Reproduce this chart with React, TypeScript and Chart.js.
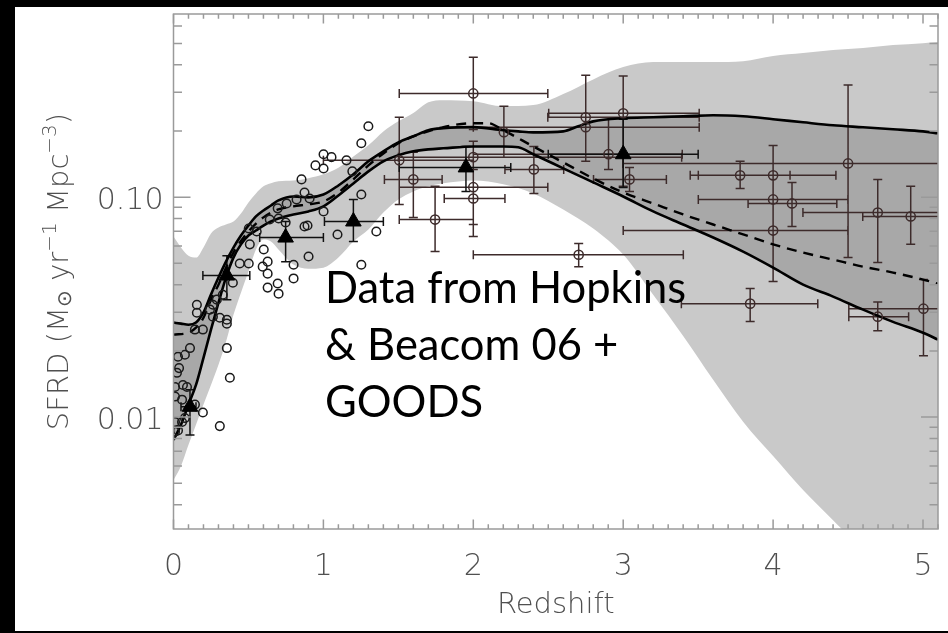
import React, { useEffect, useRef } from "react";
import { Chart, registerables } from "chart.js";

Chart.register(...registerables);

// ---------------- data ----------------
const lightZ = [0, 0.05, 0.1, 0.15, 0.2, 0.25, 0.3, 0.35, 0.4, 0.45, 0.5, 0.55, 0.6, 0.65, 0.7, 0.8, 0.9, 1.0, 1.1, 1.2, 1.3, 1.4, 1.5, 1.6, 1.7, 1.8, 2.0, 2.2, 2.4, 2.6, 2.8, 3.0, 3.2, 3.4, 3.6, 3.8, 4.0, 4.2, 4.4, 4.6, 4.8, 5.0, 5.1];
const lightHi = [0.0662, 0.0591, 0.0542, 0.0531, 0.0591, 0.0684, 0.0728, 0.0751, 0.0775, 0.0843, 0.0946, 0.104, 0.112, 0.1155, 0.118, 0.119, 0.122, 0.127, 0.136, 0.153, 0.172, 0.199, 0.221, 0.241, 0.27, 0.276, 0.273, 0.259, 0.262, 0.294, 0.343, 0.39, 0.411, 0.411, 0.411, 0.415, 0.438, 0.452, 0.466, 0.476, 0.491, 0.501, 0.507];
const lightLo = [0.00518, 0.006, 0.00748, 0.00923, 0.0114, 0.014, 0.0173, 0.022, 0.0292, 0.0368, 0.0459, 0.0578, 0.0641, 0.0628, 0.0578, 0.0494, 0.0473, 0.0478, 0.0531, 0.0628, 0.0712, 0.0851, 0.0976, 0.1062, 0.112, 0.1155, 0.119, 0.1143, 0.104, 0.0879, 0.072, 0.0548, 0.036, 0.0234, 0.0148, 0.00953, 0.00665, 0.00466, 0.0034, 0.00248, 0.00181, 0.00132, 0.00113];

const darkZ = [0, 0.05, 0.1, 0.15, 0.2, 0.25, 0.3, 0.35, 0.4, 0.45, 0.5, 0.55, 0.6, 0.65, 0.7, 0.8, 0.9, 1.0, 1.1, 1.2, 1.3, 1.4, 1.5, 1.6, 1.7, 1.8, 2.0, 2.2, 2.3, 2.4, 2.6, 2.7, 2.8, 3.0, 3.2, 3.4, 3.6, 3.8, 4.0, 4.2, 4.4, 4.6, 4.8, 5.0, 5.1];
const upperSolid = [0.0269, 0.0266, 0.0263, 0.0269, 0.0299, 0.0361, 0.0431, 0.0509, 0.059, 0.0669, 0.0743, 0.0817, 0.087, 0.0916, 0.0966, 0.1007, 0.0997, 0.1028, 0.113, 0.127, 0.1455, 0.1615, 0.1775, 0.189, 0.2015, 0.2057, 0.208, 0.2015, 0.199, 0.197, 0.199, 0.21, 0.221, 0.2285, 0.2308, 0.233, 0.2357, 0.233, 0.2261, 0.2189, 0.2122, 0.2078, 0.2034, 0.199, 0.195];
const lowerSolid = [0.00787, 0.00923, 0.0114, 0.014, 0.0186, 0.025, 0.0331, 0.0431, 0.0531, 0.061, 0.0669, 0.0705, 0.0743, 0.0775, 0.08, 0.0834, 0.0861, 0.0908, 0.1018, 0.1154, 0.1309, 0.1455, 0.155, 0.1615, 0.1649, 0.1667, 0.17, 0.17, 0.1684, 0.1567, 0.1352, 0.1256, 0.1167, 0.1007, 0.0861, 0.0751, 0.0655, 0.0565, 0.0478, 0.04, 0.0353, 0.0308, 0.0271, 0.0242, 0.0225];

const dashZ = [0, 0.1, 0.15, 0.2, 0.25, 0.3, 0.35, 0.4, 0.5, 0.6, 0.7, 0.8, 0.9, 1.0, 1.1, 1.2, 1.3, 1.4, 1.5, 1.6, 1.8, 2.0, 2.1, 2.2, 2.4, 2.6, 2.8, 3.0, 3.2, 3.4, 3.6, 3.8, 4.0, 4.2, 4.4, 4.6, 4.8, 5.0, 5.1];
const dashV = [0.0237, 0.0242, 0.0255, 0.0283, 0.0342, 0.04, 0.0478, 0.056, 0.0698, 0.0809, 0.0879, 0.0908, 0.0927, 0.0955, 0.105, 0.1204, 0.1394, 0.158, 0.1757, 0.189, 0.208, 0.2168, 0.2168, 0.2015, 0.17, 0.1438, 0.1216, 0.105, 0.0936, 0.0834, 0.0751, 0.0677, 0.061, 0.056, 0.052, 0.0483, 0.0454, 0.0422, 0.0404];

// open circles without error bars
const ptZ = [1.3, 1.253, 1.001, 1.054, 0.947, 1.001, 1.154, 1.193, 0.854, 0.874, 1.253, 0.821, 0.755, 0.908, 0.695, 0.642, 0.701, 0.748, 0.874, 0.894, 1.001, 0.502, 0.555, 0.509, 1.094, 1.353, 0.602, 0.901, 0.801, 0.442, 0.502, 0.595, 0.628, 0.628, 1.253, 0.801, 0.695, 0.628, 0.701, 0.396, 0.329, 0.289, 0.263, 0.243, 0.263, 0.309, 0.156, 0.156, 0.356, 0.356, 0.143, 0.196, 0.356, 0.376, 0.11, 0.076, 0.03, 0.037, 0.023, 0.01, 0.09, 0.063, 0.01, 0.057, 0.143, 0.196, 0.01, 0.057, 0.076, 0.309, 0.01, 0.03];
const ptV = [0.21, 0.1757, 0.1567, 0.152, 0.1394, 0.135, 0.147, 0.131, 0.1204, 0.105, 0.1028, 0.0976, 0.0936, 0.0986, 0.0889, 0.0791, 0.08, 0.0767, 0.0735, 0.0743, 0.0861, 0.072, 0.0698, 0.061, 0.0676, 0.0698, 0.0578, 0.0537, 0.0493, 0.0499, 0.0499, 0.0483, 0.0509, 0.0449, 0.0493, 0.0427, 0.0405, 0.0388, 0.0364, 0.0408, 0.036, 0.0342, 0.0324, 0.0308, 0.0286, 0.0283, 0.0324, 0.0298, 0.0277, 0.0266, 0.025, 0.025, 0.0206, 0.0151, 0.0206, 0.0192, 0.0188, 0.0167, 0.0159, 0.0137, 0.0137, 0.014, 0.0124, 0.012, 0.0114, 0.0105, 0.0095, 0.0095, 0.0099, 0.0091, 0.00858, 0.0087];

// circles with error bars
const errZ = [1.506, 1.6, 1.745, 2.0, 2.0, 2.0, 2.0, 2.204, 2.404, 2.703, 2.75, 2.75, 3.0, 2.902, 3.042, 3.78, 4.0, 4.0, 4.0, 4.126, 4.5, 4.698, 4.918, 3.847, 4.698, 5.003];
const errV = [0.147, 0.1204, 0.0791, 0.296, 0.152, 0.111, 0.0986, 0.1973, 0.1337, 0.0547, 0.2307, 0.2078, 0.2406, 0.1567, 0.1204, 0.1256, 0.1256, 0.0976, 0.0705, 0.0936, 0.1423, 0.0851, 0.0817, 0.0328, 0.0286, 0.0311];
const errZlo = [1.0, 1.407, 1.506, 1.506, 1.5, 1.506, 1.806, null, 2.211, 2.0, 2.497, 2.0, 2.503, 2.0, 2.802, 3.447, 3.501, 3.501, 3.0, 3.833, 2.997, 4.199, 4.598, 3.388, 4.505, 4.505];
const errZhi = [2.0, 1.792, 2.0, 2.497, 3.39, 2.497, 2.211, null, 2.603, 3.401, 3.507, 3.507, 3.507, 3.394, 3.288, 4.113, 4.419, 4.499, 4.499, 4.425, 5.2, 5.2, 5.2, 4.298, 4.904, 5.2];
const errVlo = [0.0927, 0.0809, 0.0566, 0.203, 0.0751, 0.0662, null, 0.152, 0.104, 0.0483, 0.1455, null, 0.112, 0.1337, 0.1062, 0.1095, 0.0413, null, null, 0.0735, 0.0531, 0.0504, 0.061, 0.0272, 0.0247, 0.019];
const errVhi = [0.2307, 0.16, 0.112, 0.432, 0.1795, 0.1337, null, 0.259, 0.17, 0.0615, 0.358, null, 0.355, 0.2307, 0.1365, 0.1455, 0.1719, null, null, 0.1167, 0.323, 0.1204, 0.112, 0.0384, 0.0334, 0.0422];

// filled triangles (GOODS)
const triZ = [0.11, 0.356, 0.748, 1.2, 1.951, 3.0];
const triV = [0.01114, 0.044, 0.0655, 0.0775, 0.1365, 0.1567];
const triZlo = [0.05, 0.196, 0.575, 1.007, 1.506, 2.5];
const triZhi = [0.15, 0.509, 1.0, 1.4, 2.25, 3.5];
const triVlo = [0.0083, 0.0342, 0.0509, 0.0628, 0.1062, 0.1107];
const triVhi = [0.0133, 0.0542, 0.0775, 0.0976, 0.17, 0.226];

// axes
const xMin = 0;
const xMax = 5.1;
const yMin = 0.0031;
const yMax = 0.68;
const xTickValues = [0, 1, 2, 3, 4, 5];
const xTickLabels = ["0", "1", "2", "3", "4", "5"];
const yTickValues = [0.01, 0.1];
const yTickLabels = ["0.01", "0.10"];
const yMinorTicks = [0.004, 0.005, 0.006, 0.007, 0.008, 0.009, 0.02, 0.03, 0.04, 0.05, 0.06, 0.07, 0.08, 0.09, 0.2, 0.3, 0.4, 0.5, 0.6];
const xTitle = "Redshift";
const yTitleParts = [
  { t: "SFRD (M", k: "n" },
  { t: "\u2299", k: "sub" },
  { t: " yr", k: "n" },
  { t: "\u22121", k: "sup" },
  { t: " Mpc", k: "n" },
  { t: "\u22123", k: "sup" },
  { t: ")", k: "n" },
];
const noteLines = ["Data from Hopkins", "& Beacom 06 +", "GOODS"];

const pts = (xs: number[], ys: number[]) => xs.map((x, i) => ({ x, y: ys[i] }));

const AXIS_GREY = "#9a9a9a";
const LABEL_GREY = "#505050";
const BAR_COLOR = "#3d2b2b";
const LABEL_FONT = '200 30px "DejaVu Sans"';

function drawBars(ctx: CanvasRenderingContext2D, x: any, y: any, zs: number[], vs: number[], zlo: (number | null)[], zhi: (number | null)[], vlo: (number | null)[], vhi: (number | null)[]) {
  const cap = 4.5;
  ctx.beginPath();
  for (let i = 0; i < zs.length; i++) {
    const px = x.getPixelForValue(zs[i]);
    const py = y.getPixelForValue(vs[i]);
    if (zlo[i] != null && zhi[i] != null) {
      const l = x.getPixelForValue(zlo[i]);
      const r = x.getPixelForValue(zhi[i]);
      ctx.moveTo(l, py); ctx.lineTo(r, py);
      ctx.moveTo(l, py - cap); ctx.lineTo(l, py + cap);
      ctx.moveTo(r, py - cap); ctx.lineTo(r, py + cap);
    }
    if (vlo[i] != null && vhi[i] != null) {
      const t = y.getPixelForValue(vhi[i]);
      const b = y.getPixelForValue(vlo[i]);
      ctx.moveTo(px, t); ctx.lineTo(px, b);
      ctx.moveTo(px - cap, t); ctx.lineTo(px + cap, t);
      ctx.moveTo(px - cap, b); ctx.lineTo(px + cap, b);
    }
  }
  ctx.stroke();
}

const decorPlugin = {
  id: "decor",
  beforeDraw(chart: any) {
    const { ctx, width, height } = chart;
    ctx.save();
    ctx.fillStyle = "#000";
    ctx.fillRect(0, 0, width, height);
    ctx.fillStyle = "#fff";
    ctx.fillRect(15, 7, width - 15, 624);
    ctx.restore();
  },
  beforeDatasetsDraw(chart: any) {
    const { ctx, chartArea: a, scales } = chart;
    ctx.save();
    ctx.beginPath();
    ctx.rect(a.left, a.top, a.right - a.left, a.bottom - a.top);
    ctx.clip();
    ctx.strokeStyle = BAR_COLOR;
    ctx.lineWidth = 1.5;
    drawBars(ctx, scales.x, scales.y, errZ, errV, errZlo, errZhi, errVlo, errVhi);
    ctx.strokeStyle = "#111";
    drawBars(ctx, scales.x, scales.y, triZ, triV, triZlo, triZhi, triVlo, triVhi);
    ctx.restore();
  },
  afterDraw(chart: any) {
    const { ctx, chartArea: a, scales } = chart;
    const x = scales.x;
    const y = scales.y;
    ctx.save();
    // frame
    ctx.strokeStyle = AXIS_GREY;
    ctx.lineWidth = 1.5;
    ctx.strokeRect(a.left, a.top, a.right - a.left, a.bottom - a.top);
    // inward ticks
    ctx.beginPath();
    for (let i = 0; i <= 51; i++) {
      const px = x.getPixelForValue(i / 10);
      const len = i % 10 === 0 ? 9.5 : 4.7;
      ctx.moveTo(px, a.bottom); ctx.lineTo(px, a.bottom - len);
      ctx.moveTo(px, a.top); ctx.lineTo(px, a.top + len);
    }
    const yt = (v: number, len: number) => {
      const py = y.getPixelForValue(v);
      ctx.moveTo(a.left, py); ctx.lineTo(a.left + len, py);
      ctx.moveTo(a.right, py); ctx.lineTo(a.right - len, py);
    };
    yMinorTicks.forEach((v) => yt(v, 8.5));
    yTickValues.forEach((v) => yt(v, 17));
    ctx.stroke();

    // tick labels
    ctx.fillStyle = LABEL_GREY;
    ctx.font = LABEL_FONT;
    ctx.textAlign = "center";
    ctx.textBaseline = "alphabetic";
    xTickValues.forEach((v, i) => {
      ctx.fillText(xTickLabels[i], x.getPixelForValue(v), a.bottom + 46);
    });
    ctx.textAlign = "right";
    yTickValues.forEach((v, i) => {
      ctx.fillText(yTickLabels[i], a.left - 10, y.getPixelForValue(v) + 12);
    });

    // x title
    ctx.textAlign = "center";
    ctx.font = '200 29px "DejaVu Sans"';
    ctx.fillText(xTitle, (a.left + a.right) / 2, a.bottom + 84);

    // y title (rotated, with sub/superscripts)
    const big = '200 29px "DejaVu Sans"';
    const small = '200 20px "DejaVu Sans"';
    const fontFor = (k: string) => (k === "n" ? big : small);
    let total = 0;
    yTitleParts.forEach((p) => {
      ctx.font = fontFor(p.k);
      total += ctx.measureText(p.t).width;
    });
    ctx.translate(68, (a.top + a.bottom) / 2 + total / 2);
    ctx.rotate(-Math.PI / 2);
    ctx.textAlign = "left";
    let cx = 0;
    yTitleParts.forEach((p) => {
      ctx.font = fontFor(p.k);
      const dy = p.k === "sup" ? -12 : p.k === "sub" ? 3 : 0;
      ctx.fillText(p.t, cx, dy);
      cx += ctx.measureText(p.t).width;
    });
    ctx.setTransform(1, 0, 0, 1, 0, 0);

    // annotation
    ctx.fillStyle = "#000";
    ctx.font = '43.5px Lato';
    ctx.textAlign = "left";
    noteLines.forEach((line, i) => {
      ctx.fillText(line, 325, 303 + i * 57);
    });
    ctx.restore();
  },
};

export default function App() {
  const ref = useRef<HTMLCanvasElement | null>(null);
  useEffect(() => {
    if (!ref.current) return;
    const chart = new Chart(ref.current, {
      type: "scatter",
      data: {
        datasets: [
          {
            label: "band-lo",
            data: pts(lightZ, lightLo),
            showLine: true,
            borderWidth: 0,
            borderColor: "rgba(0,0,0,0)",
            pointRadius: 0,
            fill: false,
            cubicInterpolationMode: "monotone",
            order: 20,
          },
          {
            label: "band-hi",
            data: pts(lightZ, lightHi),
            showLine: true,
            borderWidth: 0,
            borderColor: "rgba(0,0,0,0)",
            backgroundColor: "#c9c9c9",
            pointRadius: 0,
            fill: "-1",
            cubicInterpolationMode: "monotone",
            order: 19,
          },
          {
            label: "lower",
            data: pts(darkZ, lowerSolid),
            showLine: true,
            borderWidth: 2.6,
            borderColor: "#000",
            pointRadius: 0,
            fill: false,
            cubicInterpolationMode: "monotone",
            order: 18,
          },
          {
            label: "upper",
            data: pts(darkZ, upperSolid),
            showLine: true,
            borderWidth: 2.6,
            borderColor: "#000",
            backgroundColor: "#a8a8a8",
            pointRadius: 0,
            fill: "-1",
            cubicInterpolationMode: "monotone",
            order: 17,
          },
          {
            label: "dashed",
            data: pts(dashZ, dashV),
            showLine: true,
            borderWidth: 2.4,
            borderColor: "#000",
            borderDash: [10, 7],
            pointRadius: 0,
            fill: false,
            cubicInterpolationMode: "monotone",
            order: 16,
          },
          {
            label: "points",
            data: pts(ptZ, ptV),
            pointStyle: "circle",
            pointRadius: 4.3,
            pointBorderWidth: 1.5,
            borderColor: "#1a1a1a",
            backgroundColor: "rgba(0,0,0,0)",
            order: 3,
          },
          {
            label: "points-err",
            data: pts(errZ, errV),
            pointStyle: "circle",
            pointRadius: 4.6,
            pointBorderWidth: 1.5,
            borderColor: BAR_COLOR,
            backgroundColor: "rgba(0,0,0,0)",
            order: 2,
          },
          {
            label: "goods",
            data: pts(triZ, triV),
            pointStyle: "triangle",
            pointRadius: 9,
            pointBorderWidth: 1,
            borderColor: "#000",
            backgroundColor: "#000",
            order: 1,
          },
        ],
      },
      options: {
        animation: false,
        responsive: false,
        maintainAspectRatio: false,
        layout: { padding: { left: 173.5, top: 14, right: 8, bottom: 104 } },
        scales: {
          x: { type: "linear", min: xMin, max: xMax, display: false },
          y: { type: "logarithmic", min: yMin, max: yMax, display: false },
        },
        plugins: {
          legend: { display: false },
          tooltip: { enabled: false },
          filler: { drawTime: "beforeDatasetsDraw" },
        },
        events: [],
      } as any,
      plugins: [decorPlugin],
    });
    return () => chart.destroy();
  }, []);
  return (
    <div style={{ position: "absolute", left: 0, top: 0, width: 948, height: 633, background: "#000" }}>
      <canvas ref={ref} width={948} height={633} style={{ display: "block", width: 948, height: 633 }} />
    </div>
  );
}
